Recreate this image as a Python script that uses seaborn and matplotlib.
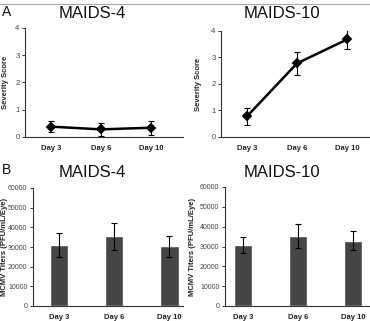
import matplotlib
matplotlib.use("Agg")
import matplotlib.pyplot as plt
import seaborn as sns
import pandas as pd
import numpy as np

days = ["Day 3", "Day 6", "Day 10"]
sev_m4 = [0.38, 0.28, 0.34]
sev_m4_err = [0.21, 0.24, 0.26]
sev_m10 = [0.78, 2.78, 3.68]
sev_m10_err = [0.32, 0.43, 0.37]
tit_m4 = [31100, 35500, 30400]
tit_m4_err = [6000, 6800, 5400]
tit_m10 = [30900, 35400, 33000]
tit_m10_err = [4050, 6000, 4600]

sns.set_theme(style="white")
plt.rcParams['font.family'] = ['Liberation Sans', 'DejaVu Sans']

W, H = 370, 321
fig = plt.figure(figsize=(W / 100, H / 100), dpi=100)
fig.patch.set_facecolor("white")

def add_ax(x0, x1, ytop, ybot):
    return fig.add_axes([x0 / W, 1 - ybot / H, (x1 - x0) / W, (ybot - ytop) / H])

def style(ax, ylabel, yticks, ylim, xlim, label_x_px, ax_x0, ax_x1, ytick_fs=5.5):
    for s in ["top", "right"]:
        ax.spines[s].set_visible(False)
    for s in ["left", "bottom"]:
        ax.spines[s].set_color("#333333")
        ax.spines[s].set_linewidth(0.8)
    ax.set_ylim(*ylim)
    ax.set_xlim(*xlim)
    ax.set_yticks(yticks)
    ax.set_yticklabels([str(t) for t in yticks], fontsize=ytick_fs, color="#444444")
    ax.set_xticks(range(len(days)))
    ax.set_xticklabels(days, fontsize=5.5, fontweight="bold", color="#222222")
    ax.tick_params(axis="y", which="both", left=True, length=2.5, width=0.7, pad=1.5, color="#333333")
    ax.tick_params(axis="x", which="both", bottom=False, length=0, pad=6)
    ax.set_ylabel(ylabel, fontsize=5.5, fontweight="bold", color="#222222")
    # label_x_px is the right edge of the rotated label
    ax.yaxis.set_label_coords((label_x_px - ax_x0) / (ax_x1 - ax_x0), 0.5)
    ax.set_xlabel("")
    ax.grid(False)

def line_panel(ax, vals, errs):
    df = pd.DataFrame({"day": days, "val": vals})
    sns.pointplot(data=df, x="day", y="val", ax=ax, color="black", markers="D",
                  markersize=4.5, linewidth=1.8, errorbar=None, order=days)
    ax.errorbar(range(len(days)), vals, yerr=errs, fmt="none", ecolor="black",
                elinewidth=0.8, capsize=2.2, capthick=0.8)

def bar_panel(ax, vals, errs):
    df = pd.DataFrame({"day": days, "val": vals})
    sns.barplot(data=df, x="day", y="val", ax=ax, color="#454545", width=0.34,
                errorbar=None, order=days, saturation=1)
    ax.errorbar(range(len(days)), vals, yerr=errs, fmt="none", ecolor="black",
                elinewidth=0.8, capsize=2.2, capthick=0.8)

# Panel A left
ax1 = add_ax(25, 183, 28, 137)
line_panel(ax1, sev_m4, sev_m4_err)
style(ax1, "Severity Score", [0, 1, 2, 3, 4], (0, 4), (-0.52, 2.64), 9, 25, 183)

# Panel A right
ax2 = add_ax(221, 370, 31, 137)
line_panel(ax2, sev_m10, sev_m10_err)
style(ax2, "Severity Score", [0, 1, 2, 3, 4], (0, 4), (-0.52, 2.46), 202, 221, 370)

tick_b = [0, 10000, 20000, 30000, 40000, 50000, 60000]
# Panel B left
ax3 = add_ax(33, 183, 188, 306)
bar_panel(ax3, tit_m4, tit_m4_err)
style(ax3, "MCMV Titers (PFU/mL/Eye)", tick_b, (0, 60000), (-0.47, 2.25), 8.5, 33, 183, 5)

# Panel B right
ax4 = add_ax(225, 370, 187, 306)
bar_panel(ax4, tit_m10, tit_m10_err)
style(ax4, "MCMV Titers (PFU/mL/Eye)", tick_b, (0, 60000), (-0.33, 2.31), 196, 225, 370, 5)

# Titles and panel letters
fig.text(92 / W, 1 - 13 / H, "MAIDS-4", fontsize=12, ha="center", va="center", color="#111111")
fig.text(282 / W, 1 - 14 / H, "MAIDS-10", fontsize=12, ha="center", va="center", color="#111111")
fig.text(92 / W, 1 - 173 / H, "MAIDS-4", fontsize=12, ha="center", va="center", color="#111111")
fig.text(282 / W, 1 - 173 / H, "MAIDS-10", fontsize=12, ha="center", va="center", color="#111111")
fig.text(2 / W, 1 - 12 / H, "A", fontsize=10, ha="left", va="center", color="#111111")
fig.text(2 / W, 1 - 170 / H, "B", fontsize=10, ha="left", va="center", color="#111111")

# thin top rule
fig.add_artist(plt.Line2D([0, 1], [1 - 4 / H, 1 - 4 / H], transform=fig.transFigure,
                          color="#aaaaaa", linewidth=0.8))

fig.savefig("out.png", dpi=100)
